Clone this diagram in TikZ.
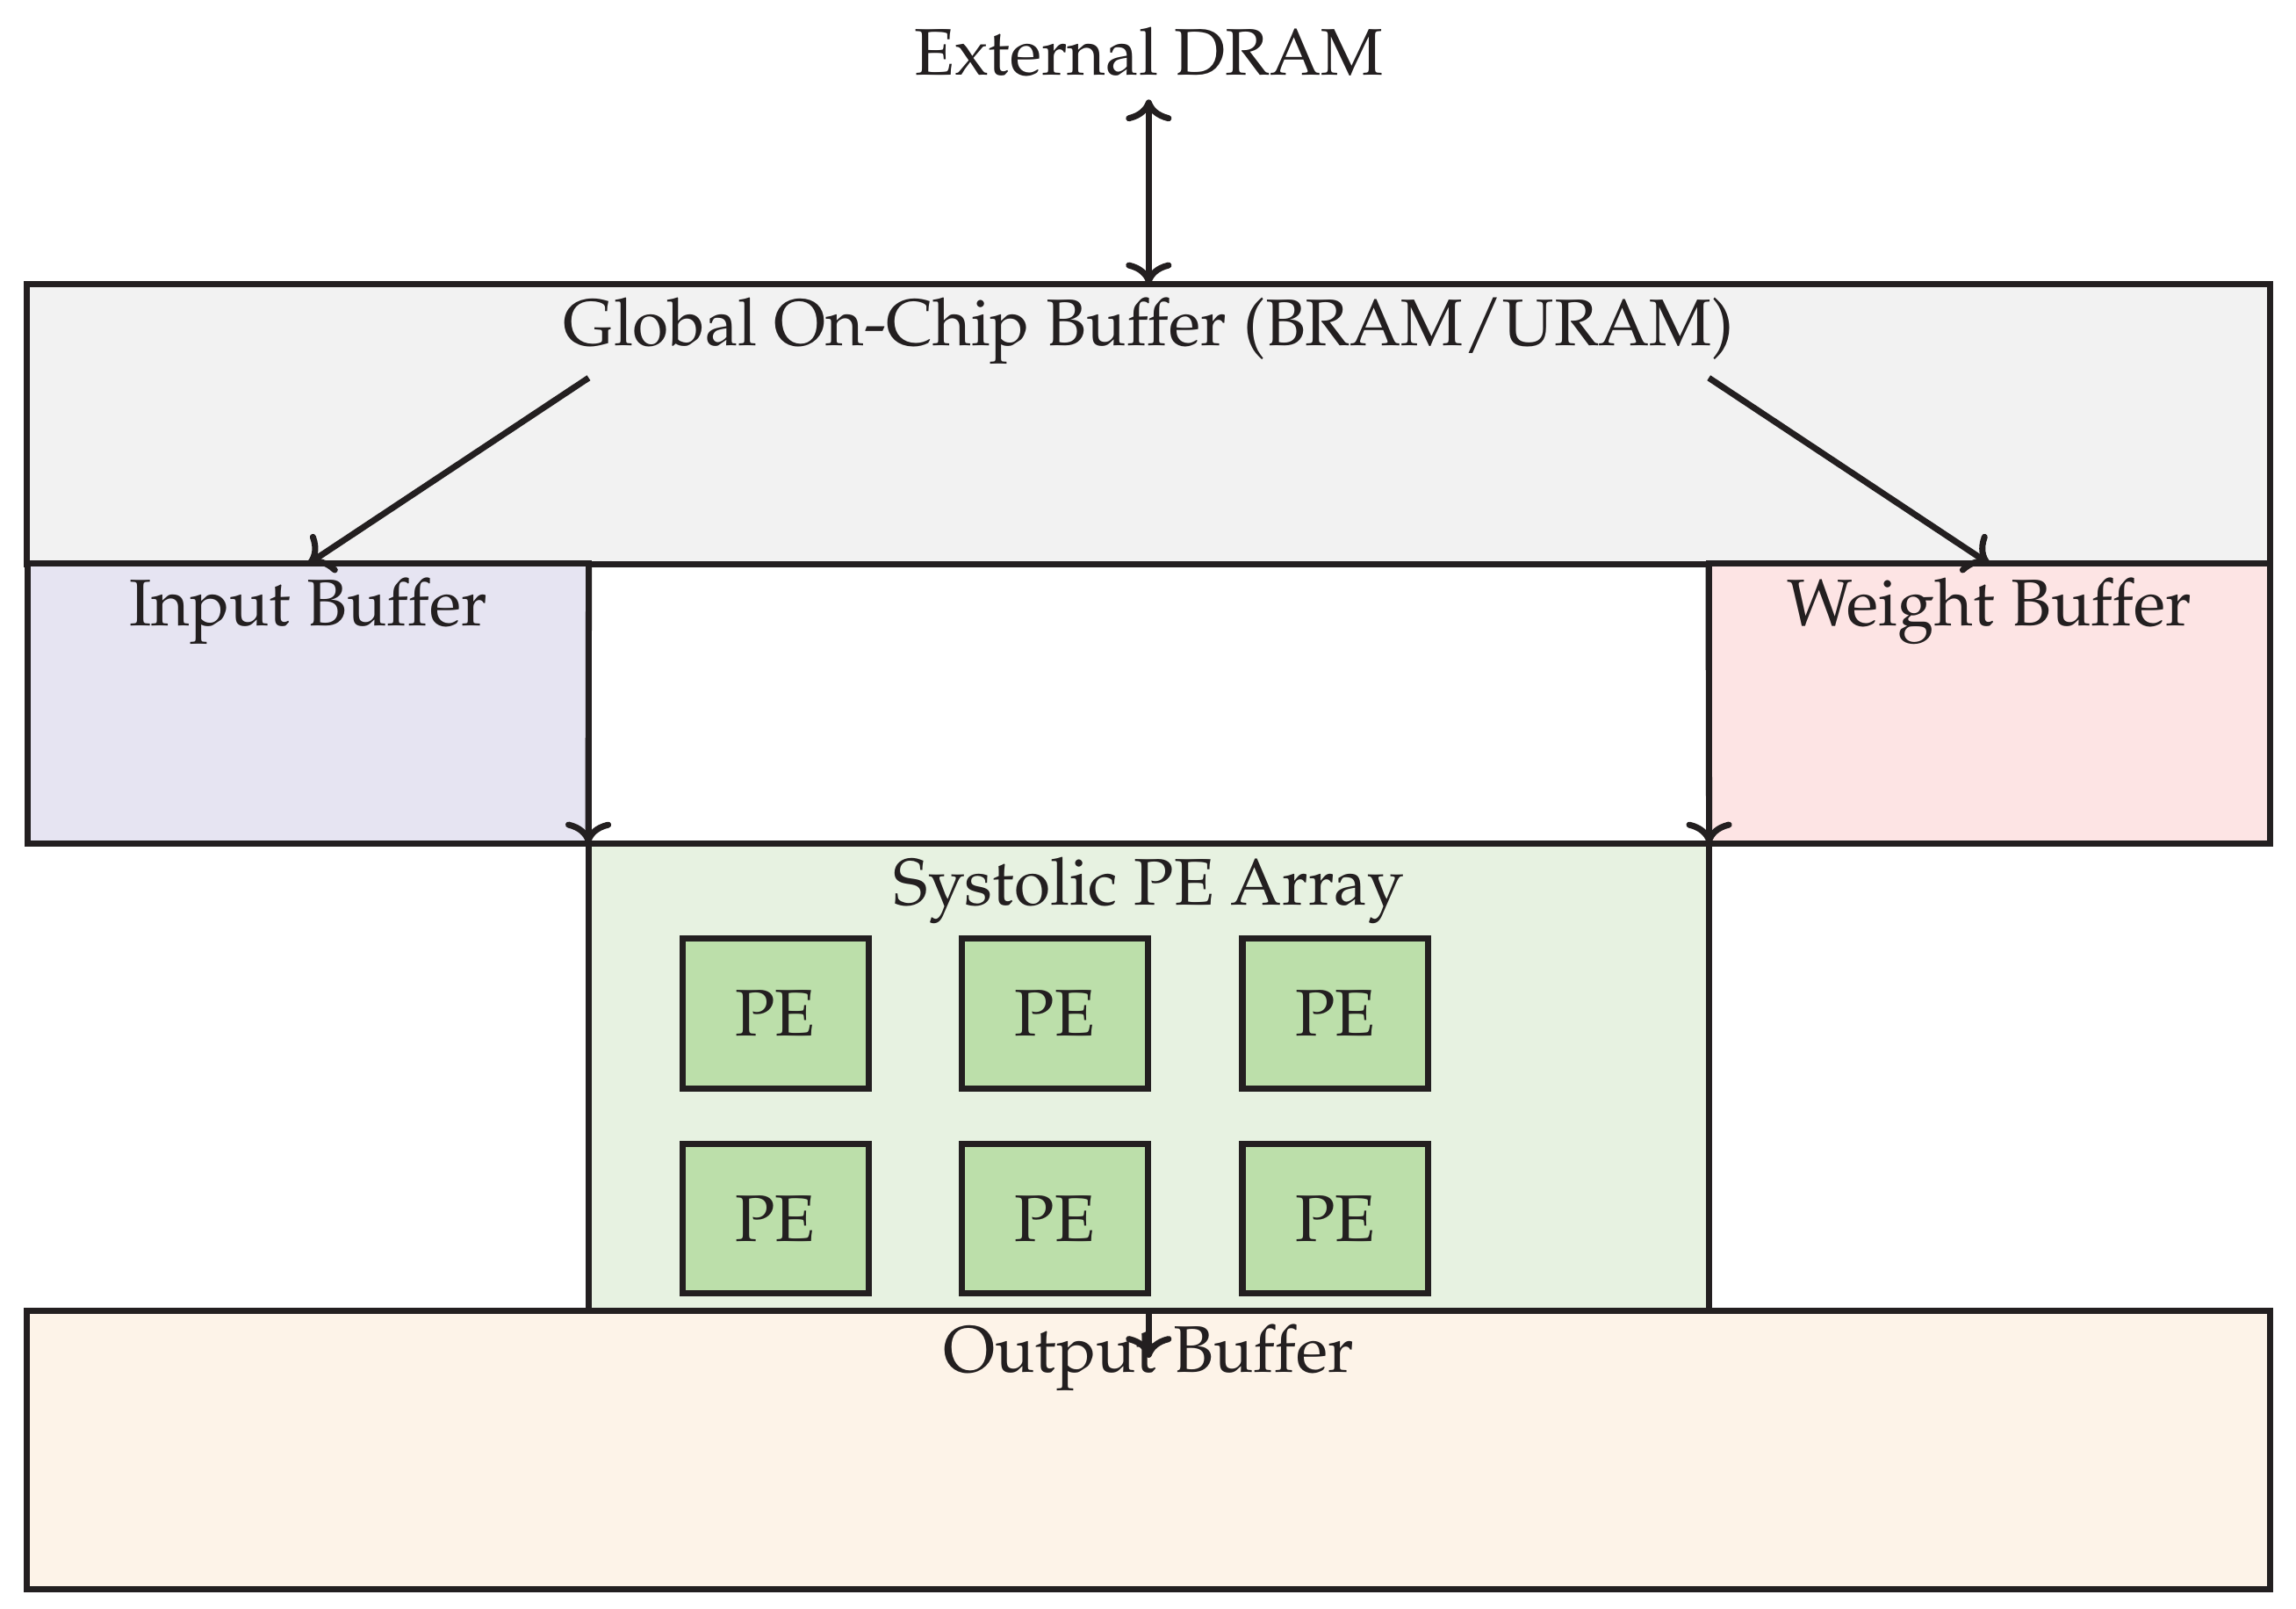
\documentclass[tikz,border=0pt]{standalone}
\usepackage[T1]{fontenc}
\usepackage{mathpazo}
\usetikzlibrary{arrows.meta}
\definecolor{ink}{HTML}{231F20}
\definecolor{cglob}{HTML}{F2F2F2}
\definecolor{cinp}{HTML}{E6E4F2}
\definecolor{cwgt}{HTML}{FDE4E4}
\definecolor{csys}{HTML}{E7F2E1}
\definecolor{cpe}{HTML}{BCDFAA}
\definecolor{cout}{HTML}{FDF3E8}
\begin{document}
\begin{tikzpicture}[x=0.01cm,y=-0.01cm,
  box/.style={draw=ink, line width=1.2pt, rectangle, inner sep=0pt, outer sep=0pt},
  pebox/.style={box, fill=cpe, minimum width=1.27cm, minimum height=1.02cm,
    text=ink, font=\fontsize{12.8}{15}\selectfont},
  lbl/.style={text=ink, font=\fontsize{12.8}{15}\selectfont, inner sep=0pt, outer sep=0pt},
  arr/.style={draw=ink, line width=1.2pt, ->}]
\useasboundingbox (0,0) rectangle (1568,1098);
\node[box, fill=cglob, minimum width=15.31cm, minimum height=1.91cm] (glob) at (784.5,289.5) {};
\node[box, fill=cinp, minimum width=3.83cm, minimum height=1.91cm] (inp) at (210.5,480.5) {};
\node[box, fill=cwgt, minimum width=3.83cm, minimum height=1.91cm] (wgt) at (1358.5,480.5) {};
\node[box, fill=csys, minimum width=7.65cm, minimum height=3.19cm] (sys) at (784.5,735.5) {};
\node[box, fill=cout, minimum width=15.31cm, minimum height=1.90cm] (out) at (784.5,990) {};
\node[pebox] (pe11) at (529.5,692) {PE};
\node[pebox] (pe12) at (720.5,692) {PE};
\node[pebox] (pe13) at (912,692) {PE};
\node[pebox] (pe21) at (529.5,832) {PE};
\node[pebox] (pe22) at (720.5,832) {PE};
\node[pebox] (pe23) at (912,832) {PE};
\node[lbl, anchor=base] (dram) at (784.5,51) {External DRAM};
\node[lbl, anchor=base] (globl) at (784.5,236) {Global On-Chip Buffer (BRAM/URAM)};
\node[lbl, anchor=base] (inpl) at (210.5,427) {Input Buffer};
\node[lbl, anchor=base] (wgtl) at (1358.5,427) {Weight Buffer};
\node[lbl, anchor=base] (sysl) at (784.5,618) {Systolic PE Array};
\node[lbl, anchor=base] (outl) at (784.5,937) {Output Buffer};
\coordinate (gl) at (402,258);
\coordinate (gr) at (1167,258);
\coordinate (otip) at (784.5,927);
\draw[arr] (gl) -- (inp.north);
\draw[arr] (gr) -- (wgt.north);
\draw[arr] (inp.north east) -- (sys.north west);
\draw[arr] (wgt.north west) -- (sys.north east);
\draw[arr, <->] ([yshift=-0.16cm]dram.south) -- (glob.north);
\draw[arr] (sys.south) -- (otip);
\end{tikzpicture}
\end{document}
